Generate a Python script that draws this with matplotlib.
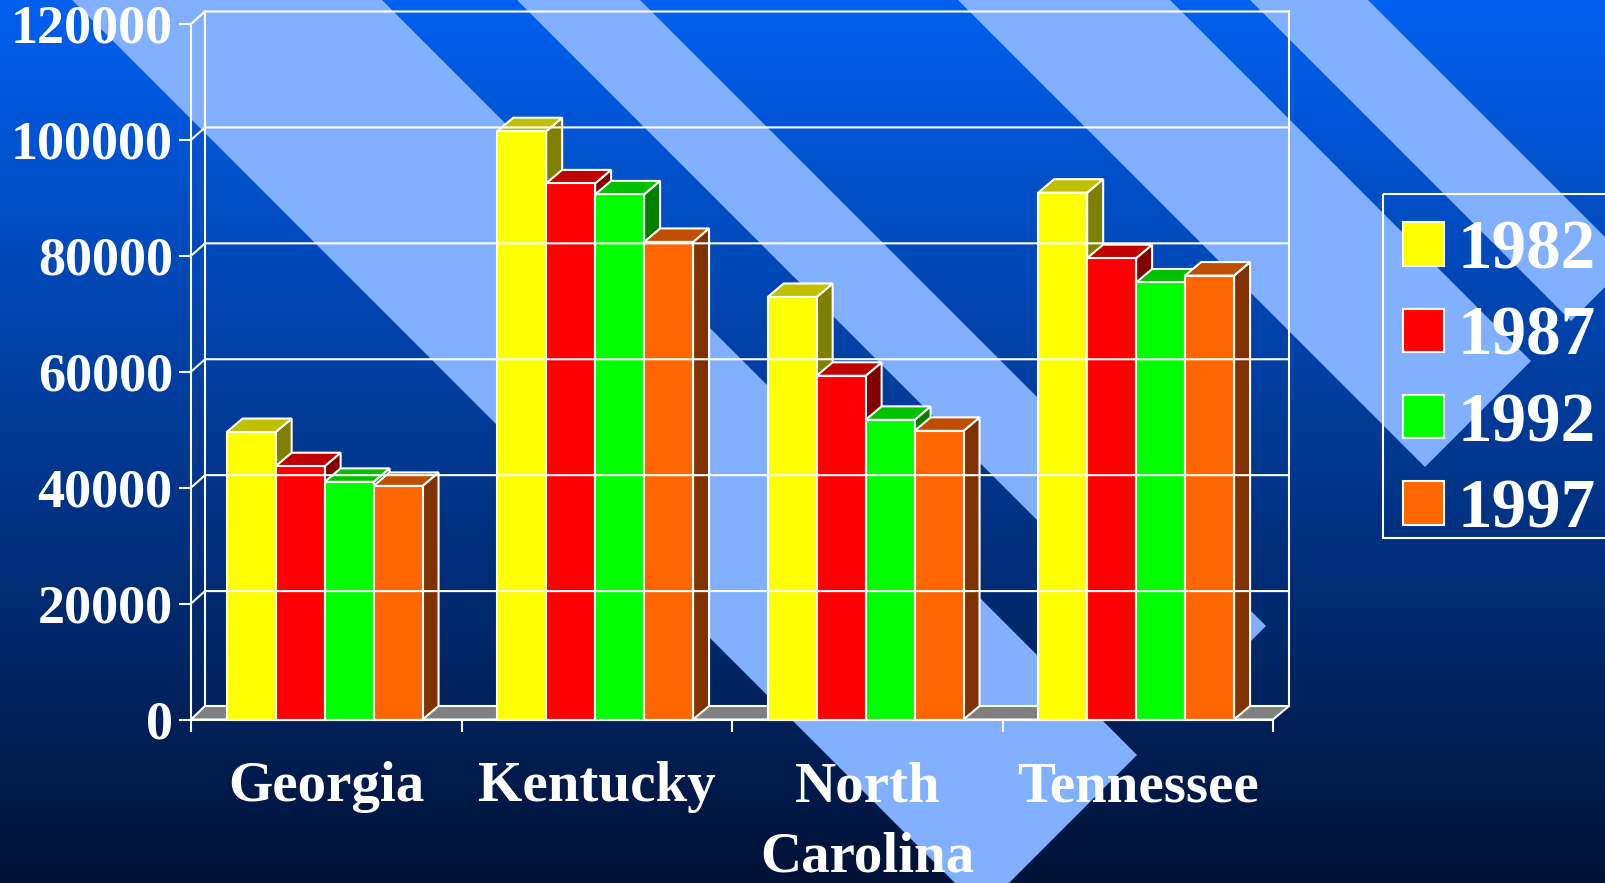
import numpy as np
import matplotlib
matplotlib.use('Agg')
from matplotlib import pyplot as plt
from matplotlib.patches import Polygon, Rectangle
from matplotlib.transforms import IdentityTransform

# data
states = ['Georgia', 'Kentucky', 'North\nCarolina', 'Tennessee']
years = ['1982', '1987', '1992', '1997']
v1982 = [49600, 101500, 72900, 90900]
v1987 = [43700, 92500, 59300, 79600]
v1992 = [41000, 90600, 51700, 75400]
v1997 = [40300, 82400, 49800, 76600]
yticks = [0, 20000, 40000, 60000, 80000, 100000, 120000]

front = ['#FFFF00', '#FF0000', '#00FF00', '#FF6600']
top = ['#C0C000', '#C00000', '#00C000', '#C04D00']
side = ['#808000', '#800000', '#008000', '#803300']
stripe_color = '#80B0FF'

W, H = 1606, 883
plt.rcParams['font.family'] = ['Liberation Serif', 'DejaVu Serif']
plt.rcParams['font.weight'] = 'bold'

fig = plt.figure(figsize=(W / 100, H / 100), dpi=100)

# background: vertical gradient with diagonal stripes, in pixel coords
bg = fig.add_axes([0, 0, 1, 1])
bg.set_xlim(0, W)
bg.set_ylim(H, 0)
bg.axis('off')
c0 = np.array([0, 96, 240]) / 255
c1 = np.array([0, 18, 54]) / 255
t = np.linspace(0, 1, 256)[:, None, None]
grad = c0[None, None, :] * (1 - t) + c1[None, None, :] * t
bg.imshow(grad, extent=[0, W, H, 0], aspect='auto')
bg.set_xlim(0, W)
bg.set_ylim(H, 0)
end_line = 1892  # x + y where all stripes stop
for a, b in [(72, 382), (517, 640), (958, 1170), (1250, 1368)]:
    # stripe between x-y=a and x-y=b
    pts = [(a - 100, -100), (b - 100, -100),
           ((end_line + b) / 2, (end_line - b) / 2),
           ((end_line + a) / 2, (end_line - a) / 2)]
    bg.add_patch(Polygon(pts, closed=True, fc=stripe_color, ec='none'))
# legend frame runs off the right edge
bg.add_patch(Rectangle((1383, 194), 240, 344, fc='none', ec='white', lw=1.5))

ax = fig.add_axes([191 / W, (H - 719.5) / H, (1273 - 191) / W, (719.5 - 24) / H])
ax.patch.set_visible(False)
ax.set_xlim(0, 4)
ax.set_ylim(0, 120000)
for s in ['top', 'right']:
    ax.spines[s].set_visible(False)
for s in ['left', 'bottom']:
    ax.spines[s].set_color('white')
    ax.spines[s].set_linewidth(1.5)

bar_w = 0.181
dx, dy = 16, 13.5
wall_dy = 12.5
id_tr = IdentityTransform()


def add_px(points, **kw):
    ax.add_patch(Polygon(points, closed=True, transform=id_tr, clip_on=False, **kw))


# floor and back wall
(fx0, fy0), (fx1, fy1) = ax.transData.transform([(0, 0), (4, 120000)])
add_px([(fx0, fy0), (fx1, fy0), (fx1 + dx, fy0 + dy), (fx0 + 14, fy0 + dy)],
       fc='#808080', ec='white', lw=1.5)
for yt in yticks[1:]:
    yp = ax.transData.transform((0, yt))[1]
    ax.plot([fx0, fx0 + 14, fx1 + dx], [yp, yp + wall_dy, yp + wall_dy], color='white', lw=1.5,
            transform=id_tr, clip_on=False, solid_capstyle='butt')
ax.plot([fx0 + 14, fx0 + 14], [fy0 + dy, fy1 + wall_dy], color='white', lw=1.5,
        transform=id_tr, clip_on=False)
ax.plot([fx1 + dx, fx1 + dx], [fy0 + dy, fy1 + wall_dy], color='white', lw=1.5,
        transform=id_tr, clip_on=False)

# bars with fake 3d faces
series = [v1982, v1987, v1992, v1997]
for i in range(len(states)):
    for j, vals in enumerate(series):
        x0 = i + 0.5 - 0.368 + j * bar_w
        x1 = x0 + bar_w
        (px0, py0), (px1, py1) = ax.transData.transform([(x0, 0), (x1, vals[i])])
        add_px([(px1, py0), (px1 + dx, py0 + dy), (px1 + dx, py1 + dy), (px1, py1)],
               fc=side[j], ec='white', lw=1.5)
        add_px([(px0, py1), (px1, py1), (px1 + dx, py1 + dy), (px0 + dx, py1 + dy)],
               fc=top[j], ec='white', lw=1.5)
        ax.bar(x0, vals[i], width=bar_w, align='edge', color=front[j], edgecolor='white',
               linewidth=1.5, clip_on=False, label=years[j] if i == 0 else None)

# axes text
ax.set_yticks(yticks)
ax.set_yticklabels([str(y) for y in yticks], fontsize=39, color='white')
ax.tick_params(axis='y', length=8.6, width=1.5, color='white', pad=4.5)
ax.set_xticks([0, 1, 2, 3, 4])
ax.set_xticklabels([])
ax.tick_params(axis='x', which='major', length=8.6, width=1.5, color='white')
ax.set_xticks([0.5, 1.5, 2.5, 3.5], minor=True)
ax.set_xticklabels(states, minor=True, fontsize=41, color='white', linespacing=1.47)
ax.tick_params(axis='x', which='minor', length=0, pad=30)

leg = ax.legend(loc='lower left', bbox_to_anchor=(1403, H - 542.5), bbox_transform=id_tr,
                fontsize=49.8, frameon=False, labelcolor='white', handlelength=0.587,
                handleheight=0.587, handletextpad=0.2, labelspacing=0.323, borderpad=0,
                borderaxespad=0)

fig.savefig('out.png', dpi=100)
